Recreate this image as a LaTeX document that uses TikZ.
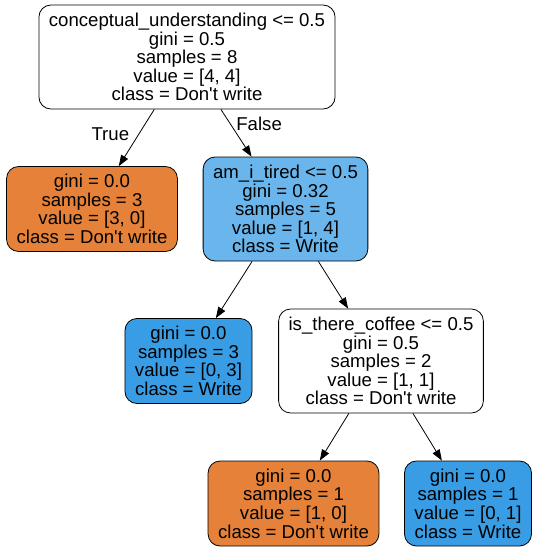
\documentclass[tikz,border=0pt]{standalone}
\usepackage{fontspec}
\setmainfont{Liberation Sans}
\usetikzlibrary{positioning, arrows.meta}
\definecolor{dontwrite}{HTML}{E58139}
\definecolor{write}{HTML}{399DE5}
\definecolor{writelight}{HTML}{6AB6EC}
\newcommand{\dw}{Don\textquotesingle t write}
\begin{document}
\begin{tikzpicture}[node distance=152pt, >={Triangle[length=11pt, width=8pt]}, line width=0.8pt, font=\fontsize{18.6}{18.6}\selectfont]
        % Stili
        \tikzstyle{split} = [draw, rectangle, rounded corners=12pt, align=center, inner xsep=10pt, minimum height=104pt, fill=white]
        \tikzstyle{leaf} = [split, minimum height=85pt]
        \tikzstyle{lbl} = [inner sep=0pt]

        \useasboundingbox (0pt,0pt) rectangle (537pt,-552pt);

        % --- Radice ---
        \node [split] (root) at (187pt,-57pt) {conceptual\_understanding <= 0.5\\gini = 0.5\\samples = 8\\value = [4, 4]\\class = \dw};

        % --- Primo livello ---
        \node [leaf, fill=dontwrite, below of=root, xshift=-95pt] (leaf_true) {gini = 0.0\\samples = 3\\value = [3, 0]\\class = \dw};
        \node [split, fill=writelight, below of=root, xshift=98.5pt] (tired) {am\_i\_tired <= 0.5\\gini = 0.32\\samples = 5\\value = [1, 4]\\class = Write};

        % --- Secondo livello ---
        \node [leaf, fill=write, below of=tired, xshift=-97pt] (leaf_tired) {gini = 0.0\\samples = 3\\value = [0, 3]\\class = Write};
        \node [split, below of=tired, xshift=95.5pt] (coffee) {is\_there\_coffee <= 0.5\\gini = 0.5\\samples = 2\\value = [1, 1]\\class = \dw};

        % --- Terzo livello ---
        \node [leaf, fill=dontwrite, below of=coffee, node distance=142.5pt, xshift=-87.5pt] (leaf_nocoffee) {gini = 0.0\\samples = 1\\value = [1, 0]\\class = \dw};
        \node [leaf, fill=write, below of=coffee, node distance=142.5pt, xshift=87pt] (leaf_coffee) {gini = 0.0\\samples = 1\\value = [0, 1]\\class = Write};

        % --- Collegamenti ---
        \draw [->] (root) -- node[lbl, pos=0.45, xshift=-28pt, yshift=1pt] (l_true) {True} (leaf_true);
        \draw [->] (root) -- node[lbl, pos=0.3, xshift=29pt] (l_false) {False} (tired);
        \draw [->] (tired) -- (leaf_tired);
        \draw [->] (tired) -- (coffee);
        \draw [->] (coffee) -- (leaf_nocoffee);
        \draw [->] (coffee) -- (leaf_coffee);

    \end{tikzpicture}
\end{document}
